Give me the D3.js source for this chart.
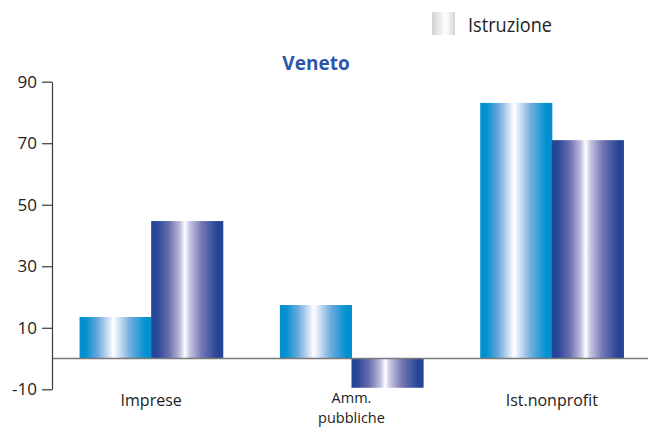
<!DOCTYPE html>
<html>
<head>
<meta charset="utf-8">
<script src="https://cdn.jsdelivr.net/npm/d3@7"></script>
<style>
  html, body { margin: 0; padding: 0; background: #ffffff; }
  svg { display: block; }
</style>
</head>
<body>
<svg id="chart" width="648" height="427"></svg>
<script>
// Categories and the two series of bars
const categories = ["Imprese", "Amm.\npubbliche", "Ist.nonprofit"];
const serie1 = [13.5, 17.4, 83.1];
const serie2 = [44.7, -9.5, 71.0];
const tickValues = [-10, 10, 30, 50, 70, 90];
const title = "Veneto";
const legendLabel = "Istruzione";

const svg = d3.select("#chart");
const W = 648, H = 427;
const axisX = 52;

const y = d3.scaleLinear().domain([-10, 90]).range([389.3, 81.7]);
const x0 = d3.scaleBand().domain(categories).range([51, 652])
  .paddingInner(0.285).paddingOuter(0.1425);
const x1 = d3.scaleBand().domain(["s1", "s2"]).range([0, x0.bandwidth()]);

// Gradients
const defs = svg.append("defs");
function grad(id, stops) {
  const g = defs.append("linearGradient").attr("id", id)
    .attr("x1", "0%").attr("x2", "100%").attr("y1", "0%").attr("y2", "0%");
  stops.forEach(([o, c]) => g.append("stop").attr("offset", o).attr("stop-color", c));
}
grad("gBlue", [[0, "#0090d0"], [0.08, "#0090d0"], [0.25, "#6aa8dc"], [0.40, "#cfe0f4"],
  [0.47, "#ffffff"], [0.53, "#dce8f6"], [0.70, "#72addf"], [0.92, "#0090d0"], [1, "#0090d0"]]);
grad("gPurple", [[0, "#264596"], [0.08, "#294798"], [0.25, "#6b6fae"], [0.40, "#bdbddc"],
  [0.47, "#ffffff"], [0.53, "#c8c8e2"], [0.70, "#7577b4"], [0.92, "#264596"], [1, "#264596"]]);
grad("gGray", [[0, "#d2d2d2"], [0.35, "#ececec"], [0.6, "#ffffff"], [1, "#d4d4d4"]]);

// Bars
const rows = categories.map((c, i) => ({ c, v: [["s1", serie1[i], "url(#gBlue)"], ["s2", serie2[i], "url(#gPurple)"]] }));
const groups = svg.append("g").selectAll("g").data(rows).join("g")
  .attr("transform", d => `translate(${x0(d.c)},0)`);
groups.selectAll("rect").data(d => d.v).join("rect")
  .attr("x", d => x1(d[0]))
  .attr("width", x1.bandwidth() + 0.5)
  .attr("y", d => y(Math.max(0, d[1])))
  .attr("height", d => Math.abs(y(d[1]) - y(0)))
  .attr("fill", d => d[2]);

// Zero line
svg.append("line")
  .attr("x1", axisX).attr("x2", W)
  .attr("y1", y(0)).attr("y2", y(0))
  .attr("stroke", "#7a7a7a").attr("stroke-width", 1.6);

// Left axis (plain hyphen for negative numbers)
const axis = d3.axisLeft(y).tickValues(tickValues).tickFormat(d => String(d))
  .tickSize(10).tickSizeOuter(0).tickPadding(5);
const ag = svg.append("g").attr("transform", `translate(${axisX},0)`).call(axis);
ag.select(".domain").attr("stroke", "#3a3a3a").attr("stroke-width", 1.2);
ag.selectAll(".tick line").attr("stroke", "#3a3a3a").attr("stroke-width", 1.2);
ag.selectAll(".tick text")
  .attr("fill", "#222")
  .style("font-family", "'Open Sans', 'DejaVu Sans', sans-serif")
  .style("font-size", "17px");

// Category labels (one text element per line; wrapped labels a bit smaller)
const labelLines = [];
categories.forEach(c => {
  const parts = c.split("\n");
  const multi = parts.length > 1;
  parts.forEach((p, i) => labelLines.push({
    c, text: p,
    y: (multi ? 402.5 : 406) + i * 20,
    size: multi ? 14.5 : 16
  }));
});
svg.append("g").selectAll("text").data(labelLines).join("text")
  .attr("x", d => x0(d.c) + x0.bandwidth() / 2)
  .attr("y", d => d.y)
  .attr("text-anchor", "middle")
  .attr("fill", "#222")
  .style("font-family", "'Open Sans', sans-serif")
  .style("font-size", d => d.size + "px")
  .text(d => d.text);

// Title
svg.append("text")
  .attr("x", 316).attr("y", 70)
  .attr("text-anchor", "middle")
  .attr("fill", "#2b55a9")
  .style("font-family", "'Open Sans', sans-serif")
  .style("font-weight", "bold")
  .style("font-size", "19px")
  .text(title);

// Legend
svg.append("rect")
  .attr("x", 432).attr("y", 12).attr("width", 23).attr("height", 23)
  .attr("fill", "url(#gGray)");
svg.append("text")
  .attr("x", 468).attr("y", 31.5)
  .attr("fill", "#222")
  .style("font-family", "'Open Sans', sans-serif")
  .style("font-size", "20px")
  .attr("textLength", 84)
  .attr("lengthAdjust", "spacingAndGlyphs")
  .text(legendLabel);
</script>
</body>
</html>
